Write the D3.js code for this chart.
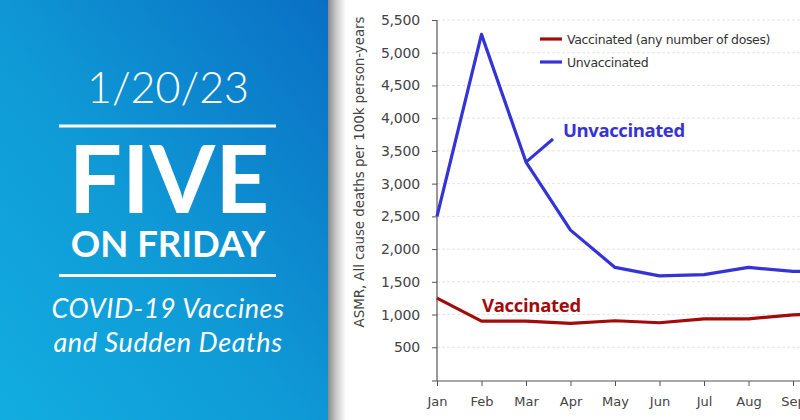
<!DOCTYPE html>
<html>
<head>
<meta charset="utf-8">
<script src="https://cdn.jsdelivr.net/npm/d3@7/dist/d3.min.js"></script>
<style>
  html, body { margin: 0; padding: 0; background: #fff; }
  svg { display: block; }
</style>
</head>
<body>
<svg id="chart" width="800" height="420"></svg>
<script>
// Monthly all-cause ASMR, deaths per 100k person-years
const months = ["Jan", "Feb", "Mar", "Apr", "May", "Jun", "Jul", "Aug", "Sep", "Oct"];
const unvaccinated = [2500, 5280, 3330, 2290, 1720, 1590, 1610, 1720, 1660, 1650];
const vaccinated = [1250, 900, 900, 865, 905, 875, 935, 935, 995, 1010];
const yTicks = [500, 1000, 1500, 2000, 2500, 3000, 3500, 4000, 4500, 5000, 5500];
const seriesNames = ["Vaccinated (any number of doses)", "Unvaccinated"];
const seriesColors = ["#a30b0b", "#3434d6"];

const svg = d3.select("#chart");
const defs = svg.append("defs");

// ---------- Title panel gradients ----------
const grad = defs.append("linearGradient").attr("id", "panelGrad")
  .attr("x1", "0%").attr("y1", "100%").attr("x2", "100%").attr("y2", "0%");
grad.append("stop").attr("offset", "0%").attr("stop-color", "#12ade0");
grad.append("stop").attr("offset", "45%").attr("stop-color", "#0f9ad6");
grad.append("stop").attr("offset", "100%").attr("stop-color", "#0a6fc4");

const shadow = defs.append("linearGradient").attr("id", "shadowGrad")
  .attr("x1", "0%").attr("x2", "100%").attr("y1", "0%").attr("y2", "0%");
shadow.append("stop").attr("offset", "0%").attr("stop-color", "#8a8a8a");
shadow.append("stop").attr("offset", "45%").attr("stop-color", "#c8c8c8");
shadow.append("stop").attr("offset", "100%").attr("stop-color", "#ffffff");

// ---------- Chart ----------
const x = d3.scalePoint().domain(months).range([437, 437 + 44.5 * (months.length - 1)]);
const y = d3.scaleLinear().domain([0, 5500]).range([380, 20]);

const chart = svg.append("g");

// dashed gridlines
chart.append("g").selectAll("line").data(yTicks).join("line")
  .attr("x1", 437).attr("x2", 800)
  .attr("y1", d => y(d)).attr("y2", d => y(d))
  .attr("stroke", "#e4e4e4").attr("stroke-width", 1).attr("stroke-dasharray", "3,2");

// y axis
const yAxis = chart.append("g").attr("transform", "translate(437,0)")
  .call(d3.axisLeft(y).tickValues(yTicks).tickSize(5).tickPadding(12)
    .tickFormat(d3.format(",")));
yAxis.select(".domain").attr("d", `M0,${y(5500)}V${381}`);
yAxis.selectAll("line").attr("stroke", "#555");
yAxis.select(".domain").attr("stroke", "#555").attr("stroke-width", 1.2);
yAxis.selectAll("text").attr("font-family", "'DejaVu Sans', sans-serif")
  .attr("font-size", 14).attr("fill", "#444").attr("letter-spacing", "-0.2");

// x axis
const xAxis = chart.append("g").attr("transform", "translate(0,381)")
  .call(d3.axisBottom(x).tickSize(5).tickPadding(11));
xAxis.select(".domain").attr("d", "M432,0H800").attr("stroke", "#555").attr("stroke-width", 1.2);
xAxis.selectAll("line").attr("stroke", "#555");
xAxis.selectAll("text").attr("font-family", "'DejaVu Sans', sans-serif")
  .attr("font-size", 13).attr("fill", "#444");

// y axis title
chart.append("text")
  .attr("transform", "translate(364,172) rotate(-90)")
  .attr("text-anchor", "middle")
  .attr("font-family", "'DejaVu Sans', sans-serif").attr("font-size", 13.5)
  .attr("fill", "#444").attr("letter-spacing", "-0.1")
  .text("ASMR, All cause deaths per 100k person-years");

// series lines
const line = d3.line().x((d, i) => x(months[i])).y(d => y(d));
[vaccinated, unvaccinated].forEach((vals, k) => {
  chart.append("path").datum(vals)
    .attr("d", line).attr("fill", "none")
    .attr("stroke", seriesColors[k]).attr("stroke-width", 3.2)
    .attr("stroke-linejoin", "round");
});

// legend
const legend = chart.append("g");
seriesNames.forEach((name, i) => {
  const ly = 39 + i * 23;
  legend.append("line").attr("x1", 540).attr("x2", 562).attr("y1", ly).attr("y2", ly)
    .attr("stroke", seriesColors[i]).attr("stroke-width", 3.2);
  legend.append("text").attr("x", 567).attr("y", ly + 4.5)
    .attr("font-family", "'DejaVu Sans', sans-serif").attr("font-size", 12.5)
    .attr("fill", "#333").attr("letter-spacing", "-0.35")
    .text(name);
});

// direct labels
chart.append("line")
  .attr("x1", 553).attr("y1", 139).attr("x2", x("Mar")).attr("y2", y(unvaccinated[2]))
  .attr("stroke", seriesColors[1]).attr("stroke-width", 3);
chart.append("text").attr("x", 563).attr("y", 137)
  .attr("font-family", "'Open Sans', sans-serif").attr("font-weight", 700)
  .attr("font-size", 18.5).attr("fill", seriesColors[1]).attr("letter-spacing", "-0.4")
  .text("Unvaccinated");
chart.append("text").attr("x", 482).attr("y", 312)
  .attr("font-family", "'Open Sans', sans-serif").attr("font-weight", 700)
  .attr("font-size", 18.5).attr("fill", seriesColors[0]).attr("letter-spacing", "-0.3")
  .text("Vaccinated");

// ---------- Title panel ----------
svg.append("rect").attr("x", 328).attr("y", 0).attr("width", 18).attr("height", 420)
  .attr("fill", "url(#shadowGrad)");
svg.append("rect").attr("x", 0).attr("y", 0).attr("width", 328).attr("height", 420)
  .attr("fill", "url(#panelGrad)");

const panel = svg.append("g").attr("fill", "#fff").attr("font-family", "Lato, sans-serif")
  .attr("text-anchor", "middle");
panel.append("text").attr("x", 168).attr("y", 103).attr("font-size", 43)
  .attr("font-weight", 300).text("1/20/23");
panel.append("rect").attr("x", 59).attr("y", 124.5).attr("width", 217).attr("height", 3);
panel.append("text").attr("x", 169).attr("y", 213).attr("font-size", 94)
  .attr("font-weight", 700).text("FIVE");
panel.append("text").attr("x", 168).attr("y", 257).attr("font-size", 36.5)
  .attr("font-weight", 700).text("ON FRIDAY");
panel.append("rect").attr("x", 59).attr("y", 274).attr("width", 217).attr("height", 3);
panel.append("text").attr("x", 168).attr("y", 318).attr("font-size", 27)
  .attr("font-style", "italic").attr("letter-spacing", "0.6").text("COVID-19 Vaccines");
panel.append("text").attr("x", 168).attr("y", 352).attr("font-size", 27)
  .attr("font-style", "italic").attr("letter-spacing", "0.6").text("and Sudden Deaths");
</script>
</body>
</html>
